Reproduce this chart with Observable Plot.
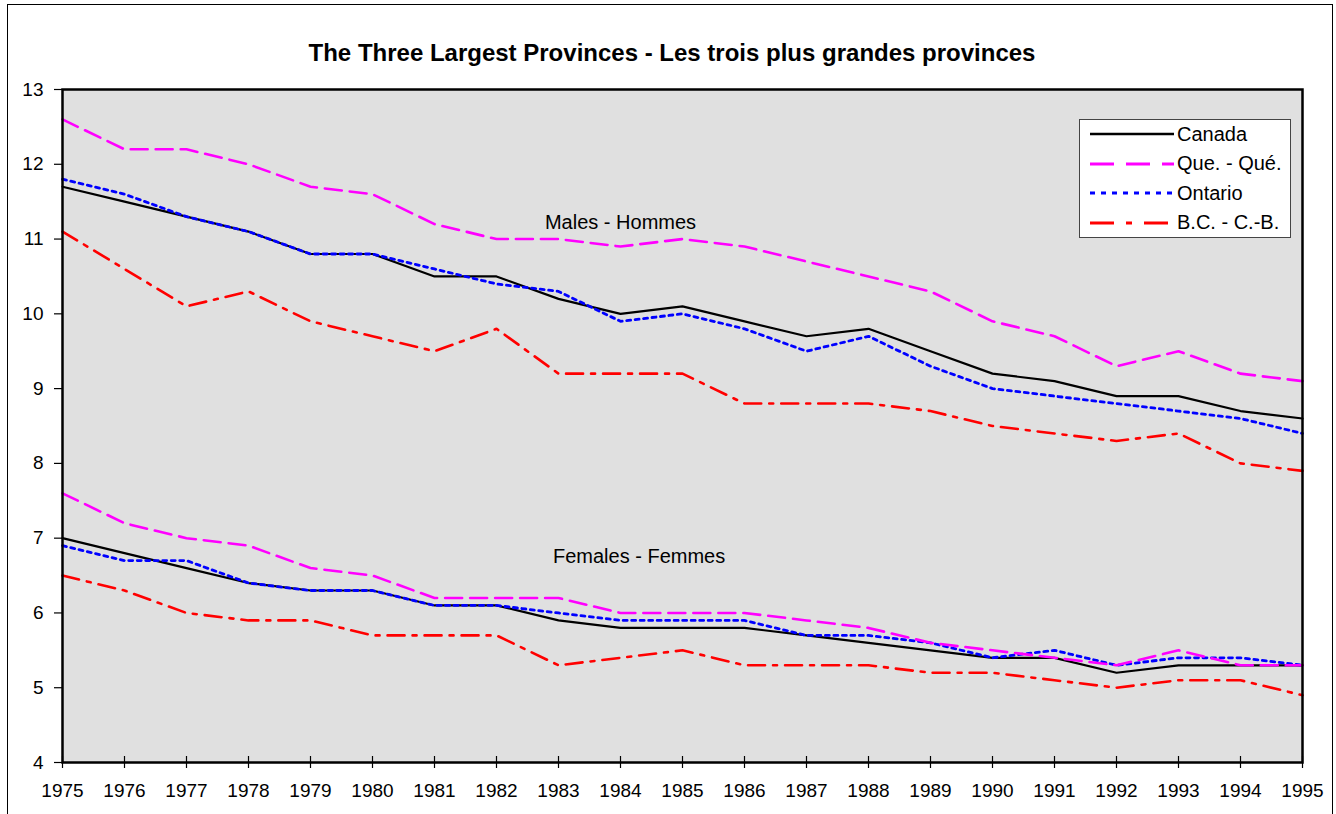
<!DOCTYPE html>
<html>
<head>
<meta charset="utf-8">
<script src="https://cdn.jsdelivr.net/npm/d3@7"></script>
<script src="https://cdn.jsdelivr.net/npm/@observablehq/plot@0.6"></script>
<style>
  html, body { margin: 0; padding: 0; background: #fff; width: 1336px; height: 814px; overflow: hidden; }
  body { position: relative; font-family: "Liberation Sans", Arial, sans-serif; }
  #border { position: absolute; left: 7px; top: 4px; width: 1326px; height: 900px; border: 1px solid #000; box-sizing: border-box; }
  #title { position: absolute; left: 0; top: 39px; width: 1344px; text-align: center; font-weight: bold; font-size: 24px; line-height: 28px; color: #000; }
  #chart { position: absolute; left: 0; top: 70px; }
  #legend { position: absolute; left: 1079px; top: 119px; width: 212px; height: 119px; background: #fff; border: 1px solid #444; box-sizing: border-box; }
  .row { position: absolute; left: 10px; height: 24px; display: flex; align-items: center; font-size: 20px; color: #000; }
  .row svg { margin-right: 3px; }
</style>
</head>
<body>
<div id="border"></div>
<div id="title">The Three Largest Provinces - Les trois plus grandes provinces</div>
<div id="chart"></div>
<div id="legend"></div>
<script>
const years = [1975,1976,1977,1978,1979,1980,1981,1982,1983,1984,1985,1986,1987,1988,1989,1990,1991,1992,1993,1994,1995];

const canadaMales   = [11.7,11.5,11.3,11.1,10.8,10.8,10.5,10.5,10.2,10.0,10.1,9.9,9.7,9.8,9.5,9.2,9.1,8.9,8.9,8.7,8.6];
const quebecMales   = [12.6,12.2,12.2,12.0,11.7,11.6,11.2,11.0,11.0,10.9,11.0,10.9,10.7,10.5,10.3,9.9,9.7,9.3,9.5,9.2,9.1];
const ontarioMales  = [11.8,11.6,11.3,11.1,10.8,10.8,10.6,10.4,10.3,9.9,10.0,9.8,9.5,9.7,9.3,9.0,8.9,8.8,8.7,8.6,8.4];
const bcMales       = [11.1,10.6,10.1,10.3,9.9,9.7,9.5,9.8,9.2,9.2,9.2,8.8,8.8,8.8,8.7,8.5,8.4,8.3,8.4,8.0,7.9];

const canadaFemales  = [7.0,6.8,6.6,6.4,6.3,6.3,6.1,6.1,5.9,5.8,5.8,5.8,5.7,5.6,5.5,5.4,5.4,5.2,5.3,5.3,5.3];
const quebecFemales  = [7.6,7.2,7.0,6.9,6.6,6.5,6.2,6.2,6.2,6.0,6.0,6.0,5.9,5.8,5.6,5.5,5.4,5.3,5.5,5.3,5.3];
const ontarioFemales = [6.9,6.7,6.7,6.4,6.3,6.3,6.1,6.1,6.0,5.9,5.9,5.9,5.7,5.7,5.6,5.4,5.5,5.3,5.4,5.4,5.3];
const bcFemales      = [6.5,6.3,6.0,5.9,5.9,5.7,5.7,5.7,5.3,5.4,5.5,5.3,5.3,5.3,5.2,5.2,5.1,5.0,5.1,5.1,4.9];

const seriesNames = ["Canada", "Que. - Qué.", "Ontario", "B.C. - C.-B."];
const yTicks = [4,5,6,7,8,9,10,11,12,13];

const groupLabels = [
  {text: "Males - Hommes", year: 1984, value: 11.22},
  {text: "Females - Femmes", year: 1984.3, value: 6.75}
];

const styles = [
  {stroke: "#000000", dash: null, width: 2.2, legendDash: null},
  {stroke: "#ff00ff", dash: "17,8", width: 2.6, legendDash: "24,12"},
  {stroke: "#0000ff", dash: "4,4.5", width: 2.8, legendDash: "5,6"},
  {stroke: "#ff0000", dash: "17,8,4,8", width: 2.6, legendDash: "24,12,6,12"}
];

const valuesBySeries = [
  [canadaMales, canadaFemales],
  [quebecMales, quebecFemales],
  [ontarioMales, ontarioFemales],
  [bcMales, bcFemales]
];

function rowsFor(i) {
  const [m, f] = valuesBySeries[i];
  const out = [];
  years.forEach((y, k) => out.push({year: y, value: m[k], sex: "M"}));
  years.forEach((y, k) => out.push({year: y, value: f[k], sex: "F"}));
  return out;
}

const lineMarks = [0, 2, 1, 3].map(i => {
  const s = styles[i];
  const opts = {x: "year", y: "value", z: "sex", stroke: s.stroke, strokeWidth: s.width, strokeLinejoin: "miter", curve: "linear"};
  if (s.dash) opts.strokeDasharray = s.dash;
  return Plot.line(rowsFor(i), opts);
});

const plot = Plot.plot({
  width: 1336,
  height: 744,
  marginTop: 19,
  marginLeft: 62,
  marginRight: 34,
  marginBottom: 52,
  style: {fontFamily: "'Liberation Sans', Arial, sans-serif", fontSize: "19px", background: "transparent", color: "#000"},
  x: {type: "linear", domain: [1975, 1995], label: null},
  y: {domain: [4, 13], label: null},
  marks: [
    Plot.frame({fill: "#e0e0e0", stroke: "none"}),
    ...lineMarks,
    Plot.text(groupLabels, {x: "year", y: "value", text: "text", fontSize: 20, fill: "#000"}),
    Plot.frame({stroke: "#000", strokeWidth: 2.5}),
    Plot.axisX({ticks: years, tickFormat: "d", tickSize: 12, dy: -6, tickPadding: 15, fontSize: 19, stroke: "#000", strokeWidth: 1.2}),
    Plot.axisY({ticks: yTicks, tickSize: 8, tickPadding: 11, fontSize: 19, stroke: "#000", strokeWidth: 1.2})
  ]
});
document.getElementById("chart").appendChild(plot);

// legend
const legend = document.getElementById("legend");
seriesNames.forEach((name, i) => {
  const s = styles[i];
  const row = document.createElement("div");
  row.className = "row";
  row.style.top = (2 + i * 29.5) + "px";
  const svg = d3.create("svg").attr("width", 84).attr("height", 24);
  svg.append("line").attr("x1", 0).attr("x2", 84).attr("y1", 12).attr("y2", 12)
    .attr("stroke", s.stroke).attr("stroke-width", s.width + 0.4)
    .attr("stroke-dasharray", s.legendDash);
  row.appendChild(svg.node());
  const span = document.createElement("span");
  span.textContent = name;
  row.appendChild(span);
  legend.appendChild(row);
});
</script>
</body>
</html>
